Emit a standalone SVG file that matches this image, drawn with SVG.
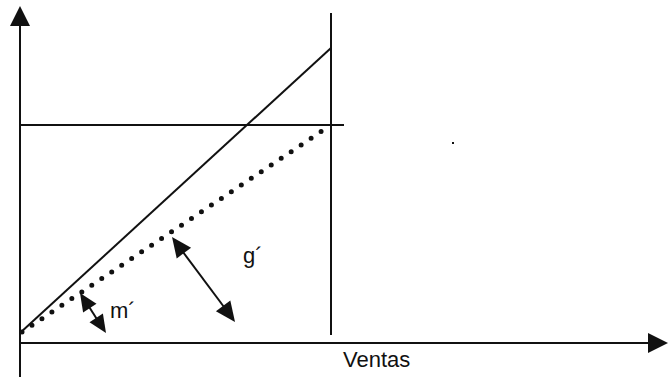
<svg xmlns="http://www.w3.org/2000/svg" width="671" height="377" viewBox="0 0 671 377">
<style>
.ln{stroke:#111;stroke-width:2;fill:none}
.dot{stroke:#111;stroke-width:5;stroke-linecap:round;stroke-dasharray:0 12;fill:none}
.lbl{font-family:"Liberation Sans",Arial,sans-serif;font-size:22px;fill:#111}
.hd{fill:#111}
</style>
<rect width="671" height="377" fill="#fff"/>
<g id="connectors">
<line class="ln" x1="20" y1="377" x2="20" y2="24"/>
<polygon class="hd" points="20,6 10,26 30,26"/>
<line class="ln" x1="20" y1="343" x2="650" y2="343"/>
<polygon class="hd" points="668,343 648,333 648,353"/>
<line class="ln" x1="331" y1="13" x2="331" y2="335"/>
<line class="ln" x1="20" y1="125" x2="344" y2="125"/>
<line class="ln" x1="20" y1="333" x2="331" y2="48"/>
<line class="dot" x1="22" y1="332" x2="322" y2="131"/>
<g id="arrow-m">
<line class="ln" x1="86" y1="302" x2="100" y2="324"/>
<polygon class="hd" points="80,293 83.1,312.5 96.5,303.7"/>
<polygon class="hd" points="106,333 89.5,322.3 102.9,313.5"/>
</g>
<g id="arrow-g">
<line class="ln" x1="180" y1="248" x2="227" y2="311"/>
<polygon class="hd" points="172,237 176.7,258.4 191.1,247.7"/>
<polygon class="hd" points="235,322 215.9,311.3 230.3,300.5"/>
</g>
</g>
<rect x="452" y="142" width="2" height="2" fill="#111"/>
<g id="labels">
<text class="lbl" x="110" y="318">m´</text>
<text class="lbl" x="243" y="263">g´</text>
<text class="lbl" x="343" y="367">Ventas</text>
</g>
</svg>
